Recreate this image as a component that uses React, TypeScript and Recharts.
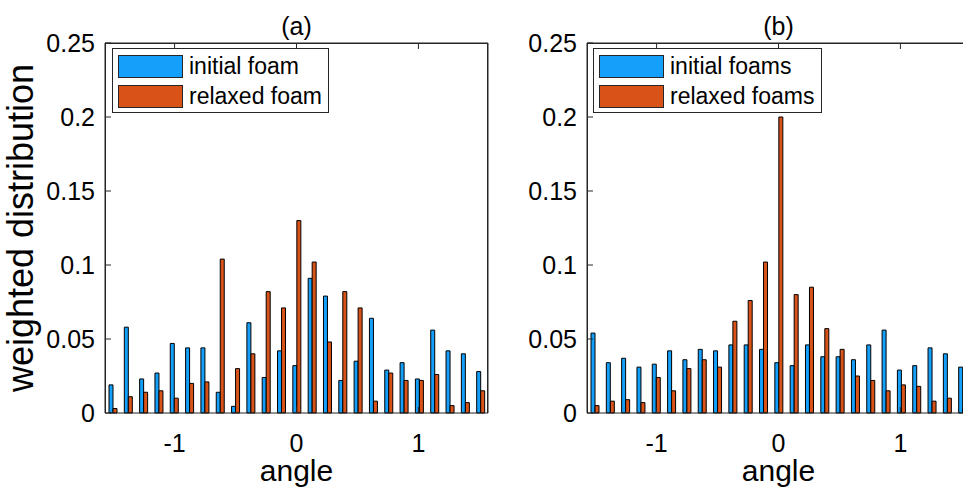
import React from 'react';
import { BarChart, Bar, XAxis, YAxis } from 'recharts';

const angleBins = [-1.508, -1.382, -1.257, -1.131, -1.005, -0.880, -0.754, -0.628, -0.503, -0.377, -0.251, -0.126, 0, 0.126, 0.251, 0.377, 0.503, 0.628, 0.754, 0.880, 1.005, 1.131, 1.257, 1.382, 1.508];

const initialA = [0.019, 0.058, 0.023, 0.027, 0.047, 0.044, 0.044, 0.014, 0.0045, 0.061, 0.024, 0.042, 0.032, 0.091, 0.079, 0.022, 0.035, 0.064, 0.029, 0.034, 0.023, 0.056, 0.042, 0.040, 0.028];
const relaxedA = [0.003, 0.011, 0.014, 0.015, 0.010, 0.020, 0.021, 0.104, 0.030, 0.040, 0.082, 0.071, 0.130, 0.102, 0.048, 0.082, 0.071, 0.008, 0.027, 0.022, 0.022, 0.026, 0.005, 0.007, 0.015];

const initialB = [0.054, 0.034, 0.037, 0.031, 0.033, 0.042, 0.036, 0.043, 0.042, 0.046, 0.046, 0.043, 0.034, 0.032, 0.046, 0.038, 0.038, 0.036, 0.046, 0.056, 0.029, 0.032, 0.044, 0.040, 0.031];
const relaxedB = [0.005, 0.008, 0.009, 0.007, 0.024, 0.015, 0.030, 0.036, 0.031, 0.062, 0.076, 0.102, 0.200, 0.080, 0.085, 0.057, 0.043, 0.025, 0.022, 0.015, 0.019, 0.018, 0.008, 0.010, 0.003];

const yTicks = [0, 0.05, 0.1, 0.15, 0.2, 0.25];
const xTicks = [-1, 0, 1];
const yTickLabels = ['0', '0.05', '0.1', '0.15', '0.2', '0.25'];

const BLUE = '#139ffa';
const ORANGE = '#d95319';
const AXIS = '#262626';
const FONT = '"Liberation Sans", Arial, Helvetica, sans-serif';
const HALF_PI = Math.PI / 2;

type PanelProps = {
  title: string;
  initial: number[];
  relaxed: number[];
  names: [string, string];
  left: number;
  legendLeft: number;
  legendWidth: number;
};

function Panel({ title, initial, relaxed, names, left, legendLeft, legendWidth }: PanelProps) {
  const data = angleBins.map((x, i) => ({ bin: i, x, initial: initial[i], relaxed: relaxed[i] }));
  const tickStyle = { fill: '#000', fontSize: 25, fontFamily: FONT };
  const blank = () => '';
  return (
    <div style={{ position: 'absolute', left, top: 0, width: 500, height: 487 }}>
      <BarChart
        width={500}
        height={487}
        data={data}
        margin={{ top: 42, right: 11, left: 45, bottom: 44 }}
        barGap={0}
        barCategoryGap={0}
      >
        <XAxis xAxisId="cat" dataKey="bin" type="category" hide height={0} orientation="top" />
        <XAxis
          xAxisId="num"
          dataKey="x"
          type="number"
          domain={[-HALF_PI, HALF_PI]}
          allowDataOverflow
          ticks={xTicks}
          height={30}
          tickSize={-6}
          tickMargin={27}
          stroke={AXIS}
          tick={tickStyle}
          label={{ value: 'angle', position: 'bottom', offset: 17, fill: '#000', fontSize: 30, fontFamily: FONT }}
        />
        <XAxis
          xAxisId="top"
          dataKey="x"
          type="number"
          orientation="top"
          domain={[-HALF_PI, HALF_PI]}
          allowDataOverflow
          ticks={xTicks}
          height={1}
          tickSize={-6}
          tickFormatter={blank}
          stroke={AXIS}
          label={{ value: title, position: 'top', offset: 7, fill: '#000', fontSize: 25, fontFamily: FONT }}
        />
        <YAxis
          yAxisId="left"
          type="number"
          domain={[0, 0.25]}
          ticks={yTicks}
          width={60}
          tickSize={-6}
          tickMargin={16}
          stroke={AXIS}
          tick={tickStyle}
          tickFormatter={(v: number) => yTickLabels[yTicks.indexOf(v)] ?? String(v)}
        />
        <YAxis
          yAxisId="right"
          orientation="right"
          type="number"
          domain={[0, 0.25]}
          ticks={yTicks}
          width={1}
          tickSize={-6}
          tickFormatter={blank}
          stroke={AXIS}
        />
        <Bar xAxisId="cat" yAxisId="left" dataKey="initial" name={names[0]} fill={BLUE} stroke="#000" strokeWidth={1} barSize={4} isAnimationActive={false} />
        <Bar xAxisId="cat" yAxisId="left" dataKey="relaxed" name={names[1]} fill={ORANGE} stroke="#000" strokeWidth={1} barSize={4} isAnimationActive={false} />
      </BarChart>
      <div
        style={{
          position: 'absolute',
          left: 105,
          top: 43,
          width: 383,
          height: 370,
          boxSizing: 'border-box',
          borderLeft: `1px solid ${AXIS}`,
          borderTop: `1px solid ${AXIS}`,
          borderRight: `1px solid ${AXIS}`,
          pointerEvents: 'none',
        }}
      />
      <div
        style={{
          position: 'absolute',
          left: legendLeft,
          top: 48,
          width: legendWidth,
          height: 65,
          boxSizing: 'border-box',
          border: `1px solid ${AXIS}`,
          background: '#fff',
          fontFamily: FONT,
          fontSize: 23,
          color: '#000',
        }}
      >
        {names.map((n, i) => (
          <div key={n} style={{ position: 'absolute', left: 5, top: 6 + i * 30, height: 23, display: 'flex', alignItems: 'center', whiteSpace: 'nowrap' }}>
            <div style={{ width: 65, height: 23, boxSizing: 'border-box', border: `1px solid ${AXIS}`, background: i === 0 ? BLUE : ORANGE, marginRight: 6 }} />
            <span style={{ lineHeight: '23px' }}>{n}</span>
          </div>
        ))}
      </div>
    </div>
  );
}

export default function App() {
  return (
    <div style={{ position: 'absolute', left: 0, top: 0, width: 963, height: 487, overflow: 'hidden', background: '#fff' }}>
      <Panel title="(a)" initial={initialA} relaxed={relaxedA} names={['initial foam', 'relaxed foam']} left={0} legendLeft={112} legendWidth={217} />
      <Panel title="(b)" initial={initialB} relaxed={relaxedB} names={['initial foams', 'relaxed foams']} left={482} legendLeft={111} legendWidth={229} />
      <svg width={60} height={487} style={{ position: 'absolute', left: 0, top: 0 }}>
        <text transform="translate(33,228) rotate(-90)" textAnchor="middle" fontSize={36} fontFamily={FONT} fill="#000">
          weighted distribution
        </text>
      </svg>
    </div>
  );
}
